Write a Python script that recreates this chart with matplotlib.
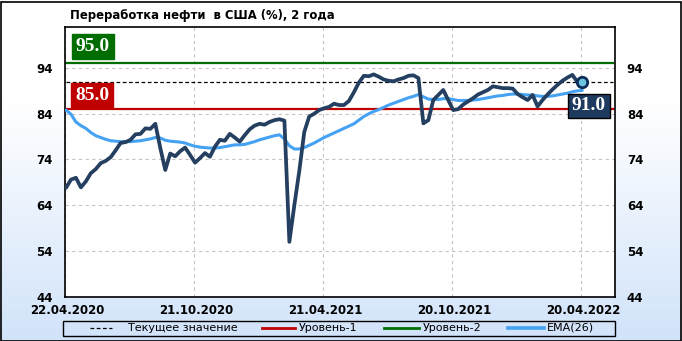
import numpy as np
import matplotlib
matplotlib.use("Agg")
import matplotlib.pyplot as plt
from matplotlib.lines import Line2D
from matplotlib.patches import Rectangle
import matplotlib.transforms as mtransforms

# ---------------- data ----------------
title = "Переработка нефти  в США (%), 2 года"
tick_labels = ["22.04.2020", "21.10.2020", "21.04.2021", "20.10.2021", "20.04.2022"]
tick_weeks = [0, 26, 52, 78, 104]

utilization = [
    67.8, 69.6, 70.0, 67.9, 69.2, 71.0, 71.9, 73.2, 73.7, 74.5,
    76.0, 77.6, 77.8, 78.3, 79.5, 79.6, 80.8, 80.7, 81.8, 76.5,
    71.7, 75.3, 74.7, 75.8, 76.6, 75.0, 73.3, 74.3, 75.4, 74.6,
    76.8, 78.3, 78.1, 79.6, 78.8, 77.9, 79.3, 80.6, 81.4, 81.8,
    81.6, 82.2, 82.6, 82.8, 82.5, 56.0, 64.0, 71.5, 80.0, 83.4,
    84.0, 84.8, 85.2, 85.5, 86.2, 85.9, 85.9, 86.8, 88.7, 90.8,
    92.3, 92.2, 92.6, 92.1, 91.5, 91.2, 91.1, 91.5, 91.8, 92.3,
    92.4, 91.8, 81.9, 82.6, 87.0, 88.1, 89.2, 87.0, 84.8, 85.0,
    86.0, 86.7, 87.4, 88.2, 88.7, 89.2, 90.0, 89.8, 89.6, 89.6,
    89.5, 88.3, 87.6, 87.0, 88.1, 85.6, 87.0, 88.2, 89.3, 90.3,
    91.2, 91.9, 92.5, 91.0, 91.0,
]

ema26 = [
    84.8, 83.9, 82.2, 81.4, 80.8, 79.9, 79.2, 78.8, 78.4, 78.1,
    78.0, 77.9, 77.9, 77.9, 78.0, 78.1, 78.3, 78.5, 78.8, 78.7,
    78.2, 78.0, 77.9, 77.8, 77.6, 77.2, 76.9, 76.7, 76.6, 76.5,
    76.5, 76.6, 76.8, 77.0, 77.2, 77.2, 77.3, 77.6, 77.9, 78.3,
    78.6, 78.9, 79.2, 79.4, 78.5, 77.0, 76.3, 76.3, 76.6, 77.1,
    77.6, 78.2, 78.8, 79.3, 79.8, 80.3, 80.8, 81.3, 81.8, 82.6,
    83.4, 84.0, 84.5, 84.9, 85.4, 85.9, 86.3, 86.7, 87.1, 87.5,
    87.8, 88.2, 87.7, 87.2, 87.1, 87.1, 87.3, 87.3, 87.1, 86.9,
    86.9, 86.9, 87.0, 87.1, 87.3, 87.5, 87.7, 87.9, 88.0, 88.2,
    88.3, 88.3, 88.2, 88.1, 88.1, 87.9, 87.8, 87.8, 87.9, 88.1,
    88.3, 88.5, 88.8, 89.0, 89.1,
]

level1 = 85.0
level2 = 95.0
current = 91.0
yticks = [44, 54, 64, 74, 84, 94]
legend_labels = ["Текущее значение", "Уровень-1", "Уровень-2", "EMA(26)"]

# ---------------- figure ----------------
W, H = 682, 341
fig = plt.figure(figsize=(W / 100, H / 100), dpi=100)

def fx(px):
    return px / W

def fy(py):
    return 1 - py / H

# gradient background
bg = fig.add_axes([0, 0, 1, 1], zorder=-10)
grad = np.linspace(0, 1, 256)[:, None]
top = np.array([1.0, 1.0, 1.0])
bot = np.array([0.82, 0.89, 0.98])
wgt = np.clip((grad - 0.3) / 0.7, 0, 1)
img = top * (1 - wgt[..., None]) + bot * wgt[..., None]
img = np.repeat(img, 2, axis=1)
bg.imshow(img, aspect="auto", extent=[0, 1, 0, 1], origin="upper")
bg.set_xlim(0, 1)
bg.set_ylim(0, 1)
bg.axis("off")
bg.add_patch(Rectangle((0.5 / W, 0.5 / H), 1 - 2 / W, 1 - 2 / H, fill=False,
                       ec="black", lw=1.2, transform=bg.transAxes))

x_left, x_right = 64.5, 615.0
y_top, y_bot = 27.3, 296.7
ax = fig.add_axes([fx(x_left), fy(y_bot), fx(x_right - x_left), (y_bot - y_top) / H])
ax.set_facecolor("white")

x = np.arange(len(utilization)) + 0.3
ax.set_xlim(0, 110.9)
ax.set_ylim(44, 102.9)

# grid
ax.set_yticks(yticks)
ax.set_xticks(tick_weeks)
ax.grid(True, color="#c4c4c4", linestyle=(0, (3, 3)), linewidth=0.8)
ax.set_axisbelow(True)

# levels
ax.axhline(level2, xmin=0.003, xmax=0.996, color="#006d00", lw=1.6, zorder=2)
ax.axhline(level1, xmin=0.003, xmax=0.996, color="#c00000", lw=1.6, zorder=2)
ax.axhline(current, xmin=0.003, xmax=0.996, color="black", lw=0.9,
           linestyle=(0, (3, 2)), zorder=2)

# series
ax.plot(x, ema26, color="#45a2f2", lw=2.2, zorder=3, solid_capstyle="round")
ax.plot(x, utilization, color="#243f60", lw=2.7, zorder=4, solid_joinstyle="round",
        solid_capstyle="round")
ax.plot(x[-1], utilization[-1], "o", ms=7.5, mfc="#6cc5de", mec="#0d2d5a", mew=2,
        zorder=5)

# ticks
ax.tick_params(axis="both", length=0, labelsize=8.5)
ax.tick_params(axis="y", left=True, right=True, labelleft=True, labelright=True,
               pad=8.5)
ax.tick_params(axis="x", pad=5)
ax.set_yticklabels([str(v) for v in yticks], fontweight="bold")
ax.set_xticklabels(tick_labels, fontweight="bold")
off = mtransforms.ScaledTranslation(2.5 / 100, 0, fig.dpi_scale_trans)
for lab in ax.get_xticklabels():
    lab.set_transform(lab.get_transform() + off)
for sp in ax.spines.values():
    sp.set_color("black")
    sp.set_linewidth(1.2)

# title
fig.text(fx(70), fy(15), title, fontsize=8.4, fontweight="bold",
         ha="left", va="center", color="black")

# value boxes
def vbox(px, py, txt, color, edge):
    fig.text(fx(px), fy(py), txt, fontsize=14, fontweight="bold",
             family="Liberation Serif", color="white", ha="center", va="center",
             bbox=dict(boxstyle="square,pad=0.2", fc=color, ec=edge, lw=1.0))

vbox(93, 46.6, f"{level2:.1f}", "#006d00", "#006d00")
vbox(92, 95.0, f"{level1:.1f}", "#c00000", "#c00000")
vbox(589, 106.0, f"{current:.1f}", "#1e3a5f", "black")

# legend (manual)
ly = fy(328.0)
bg.add_patch(Rectangle((fx(63.3), fy(335.5)), fx(615 - 63.3), (335.5 - 320.5) / H,
                       fill=False, ec="black", lw=1.0, transform=bg.transAxes))
items = [
    ((90, 112), dict(color="black", lw=0.9, linestyle=(0, (3, 2))), 128),
    ((262, 295), dict(color="#c00000", lw=2.0), 298.5),
    ((384, 419), dict(color="#006d00", lw=2.0), 423),
    ((508, 544), dict(color="#45a2f2", lw=2.6), 546.5),
]
for ((xa, xb), style, tx), lab in zip(items, legend_labels):
    bg.add_line(Line2D([fx(xa), fx(xb)], [ly, ly], transform=bg.transAxes, **style))
    bg.text(fx(tx), ly, lab, fontsize=8.0, ha="left", va="center",
            transform=bg.transAxes, color="black")

fig.savefig("out.png", dpi=100)
